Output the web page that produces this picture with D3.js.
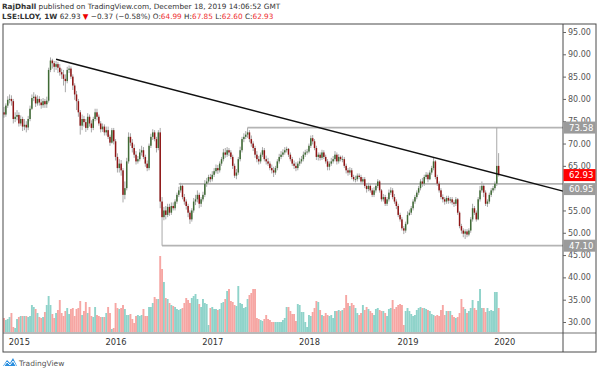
<!DOCTYPE html>
<html>
<head>
<meta charset="utf-8">
<script src="https://cdnjs.cloudflare.com/ajax/libs/d3/7.8.5/d3.min.js"></script>
<style>
    body { margin: 0; background: #fff; }
    svg { display: block; }
    text { font-family: "DejaVu Sans", "Liberation Sans", sans-serif; }
</style>
</head>
<body>
<svg width="600" height="372"></svg>
<script>
// weekly bars of LSE:LLOY, first bar is the week of 10 Nov 2014
var startWeek = "2014-11-10";

var opens = [
    77.0,76.5,78.5,79.8,80.0,79.5,75.5,76.0,76.4,74.5,
    75.5,73.8,74.2,73.6,75.5,77.8,80.2,80.5,79.0,80.0,
    79.2,78.6,79.5,78.8,79.6,86.5,88.6,88.0,87.2,87.8,
    87.0,86.0,85.5,84.5,84.0,86.5,86.8,85.0,83.0,81.0,
    79.5,77.0,74.0,75.5,74.8,73.5,76.0,74.5,73.5,75.5,
    77.0,76.0,74.5,73.2,73.8,72.5,73.0,71.5,70.2,73.0,
    70.5,67.0,64.5,65.5,64.0,58.5,60.0,66.0,71.5,70.2,
    69.0,67.5,66.0,66.5,68.0,68.5,67.0,65.5,64.5,69.5,
    71.5,72.5,71.0,69.0,72.5,57.0,53.5,55.0,54.0,55.8,
    54.5,56.0,55.5,57.0,58.5,59.5,60.5,58.0,57.0,56.0,
    54.5,53.0,55.0,57.0,57.5,58.5,56.5,57.5,58.5,61.0,
    61.5,62.5,62.0,63.0,63.8,64.5,64.0,65.5,66.5,68.0,
    67.5,68.5,68.0,67.0,65.0,62.8,63.5,66.5,68.5,71.0,
    71.5,72.0,72.5,71.0,70.0,69.0,67.5,66.5,66.0,67.5,
    68.5,66.5,66.0,65.5,64.5,64.0,63.5,64.5,66.0,67.0,
    67.5,68.0,68.5,68.8,67.5,66.5,65.5,65.0,64.5,65.5,
    66.0,66.5,67.5,68.0,68.2,69.5,71.2,70.5,69.0,67.0,
    67.5,66.8,68.0,67.0,66.0,64.8,65.5,66.0,66.5,67.5,
    66.0,67.0,66.5,66.5,65.0,64.0,63.5,64.0,62.5,62.0,
    62.0,62.8,62.5,61.5,62.0,60.5,59.8,60.5,59.5,58.5,
    59.5,60.5,61.5,59.5,57.5,58.0,56.5,57.5,59.0,59.5,
    58.0,57.0,56.0,54.0,53.0,51.0,50.5,52.0,54.0,54.5,
    55.5,57.0,58.0,59.0,60.0,61.5,61.0,62.5,63.0,62.0,
    63.5,64.5,66.0,62.5,61.0,59.5,58.0,57.5,57.0,57.8,
    57.2,57.5,56.8,56.5,57.5,54.5,51.5,50.5,49.8,50.3,
    49.6,50.5,53.0,55.5,54.5,53.0,57.5,59.5,60.5,59.0,
    56.5,57.0,58.5,59.5,60.0,61.0,64.99
];

var highs = [
    78.2,79.0,80.6,81.0,80.8,80.0,77.0,77.5,77.0,76.3,
    76.0,75.5,75.0,76.2,78.5,81.0,81.5,81.0,80.8,80.6,
    80.0,80.2,80.0,80.5,87.0,89.3,89.0,88.5,88.5,88.3,
    87.8,86.8,86.5,85.5,87.2,87.5,87.3,85.5,83.5,81.8,
    80.0,77.5,76.5,76.2,75.5,76.8,76.5,75.2,76.0,77.8,
    77.8,76.5,75.0,74.5,74.3,73.8,73.8,72.0,73.5,73.5,
    71.0,67.8,66.5,66.3,64.5,61.5,66.8,72.5,72.3,71.0,
    69.8,68.3,67.2,68.8,69.5,69.2,67.5,66.2,70.0,72.2,
    73.2,73.0,71.5,73.0,73.5,58.0,55.8,56.0,56.5,56.5,
    56.8,56.8,57.5,59.0,60.3,61.2,60.8,58.7,57.5,56.5,
    55.0,55.5,57.8,58.5,59.5,59.0,58.0,59.2,61.8,62.3,
    63.0,63.2,63.8,64.5,65.3,65.2,66.0,67.0,68.8,69.0,
    69.2,69.0,68.5,67.5,65.5,64.3,67.0,69.3,71.5,72.3,
    72.8,73.58,73.0,71.8,70.5,69.5,68.3,67.2,68.0,69.2,
    69.0,67.3,66.8,66.0,65.3,64.8,65.0,66.5,67.7,68.3,
    68.7,69.2,69.3,69.0,68.0,67.0,66.2,65.8,66.0,66.8,
    67.2,68.2,68.6,68.8,70.0,71.8,71.9,71.0,69.5,68.0,
    68.0,68.6,68.5,67.5,66.5,66.0,66.8,67.2,68.3,68.0,
    67.6,67.3,67.3,67.0,65.5,64.5,64.7,64.5,63.0,62.8,
    63.3,63.3,63.0,62.5,62.5,61.0,61.2,61.0,60.0,60.2,
    61.0,62.0,61.8,59.8,58.7,58.5,58.0,59.7,60.2,60.0,
    58.7,57.5,56.5,54.5,53.5,51.5,52.5,54.8,55.2,56.0,
    57.5,58.5,59.5,60.5,62.0,62.3,63.0,63.6,63.5,64.0,
    65.0,66.9,66.3,63.0,61.5,60.0,58.6,58.0,58.3,58.3,
    58.0,58.0,57.3,58.0,57.8,54.8,52.0,51.0,50.8,50.8,
    51.0,53.5,56.5,56.0,55.0,58.0,60.5,61.5,61.0,59.5,
    57.5,59.0,60.0,60.5,61.5,73.58,67.85
];

var lows = [
    75.8,76.0,78.0,79.0,78.5,74.5,74.8,75.2,73.8,74.0,
    72.8,73.0,72.5,73.0,75.0,77.5,79.5,78.2,78.5,78.5,
    77.8,78.0,78.0,78.0,79.2,86.0,86.8,86.0,86.5,85.8,
    85.2,84.5,83.0,81.5,83.5,85.8,84.5,82.0,79.8,77.5,
    76.0,72.0,73.0,73.8,72.6,73.0,73.8,72.5,73.0,75.0,
    75.2,74.0,72.5,72.6,71.8,71.8,71.0,69.5,70.0,69.8,
    66.2,63.5,63.5,62.8,56.8,57.5,59.5,65.5,69.5,68.0,
    66.8,65.3,65.5,66.0,67.3,66.5,64.8,63.8,64.0,69.0,
    70.8,70.5,68.0,68.5,55.5,47.1,52.8,53.0,53.5,53.8,
    54.0,55.0,55.0,56.5,58.0,59.0,57.5,56.3,55.2,53.5,
    52.0,52.5,54.5,56.2,56.8,55.5,55.8,57.0,58.0,60.3,
    61.0,61.3,61.5,62.5,63.3,63.2,63.5,65.0,66.0,66.8,
    67.0,67.2,66.5,64.3,62.3,62.0,63.0,66.0,68.0,70.3,
    71.0,71.3,70.3,69.3,68.3,66.8,65.8,65.3,65.5,67.0,
    66.0,65.3,65.0,64.0,63.3,62.5,63.0,64.0,65.5,66.5,
    67.0,67.5,68.0,67.0,66.0,65.0,64.3,63.8,64.0,65.0,
    65.5,66.0,67.0,67.5,67.8,69.0,69.8,68.5,66.3,66.2,
    66.2,66.3,66.5,65.5,64.0,64.0,65.0,65.5,66.0,65.3,
    65.5,66.0,65.8,64.5,63.3,62.8,63.0,62.0,61.5,61.3,
    61.5,62.0,61.0,61.0,60.0,59.0,59.3,59.0,58.0,58.0,
    59.0,60.0,59.0,57.0,57.0,56.0,56.0,57.0,58.5,57.5,
    56.5,55.3,53.5,52.5,50.5,49.7,50.0,51.8,53.8,54.0,
    55.0,56.5,57.5,58.5,59.5,60.3,60.5,62.0,61.3,61.8,
    63.0,64.0,62.0,60.5,59.0,57.5,56.8,56.3,56.5,56.5,
    56.6,56.3,55.8,56.0,54.0,51.0,49.8,49.0,48.6,49.0,
    49.2,50.0,52.5,54.0,52.5,52.8,57.0,59.0,58.0,56.0,
    55.8,56.5,58.0,59.0,59.5,60.5,62.60
];

var closes = [
    76.5,78.5,79.8,80.0,79.5,75.5,76.0,76.4,74.5,75.5,
    73.8,74.2,73.6,75.5,77.8,80.2,80.5,79.0,80.0,79.2,
    78.6,79.5,78.8,79.6,86.5,88.6,88.0,87.2,87.8,87.0,
    86.0,85.5,84.5,84.0,86.5,86.8,85.0,83.0,81.0,79.5,
    77.0,74.0,75.5,74.8,73.5,76.0,74.5,73.5,75.5,77.0,
    76.0,74.5,73.2,73.8,72.5,73.0,71.5,70.2,73.0,70.5,
    67.0,64.5,65.5,64.0,58.5,60.0,66.0,71.5,70.2,69.0,
    67.5,66.0,66.5,68.0,68.5,67.0,65.5,64.5,69.5,71.5,
    72.5,71.0,69.0,72.5,57.0,53.5,55.0,54.0,55.8,54.5,
    56.0,55.5,57.0,58.5,59.5,60.5,58.0,57.0,56.0,54.5,
    53.0,55.0,57.0,57.5,58.5,56.5,57.5,58.5,61.0,61.5,
    62.5,62.0,63.0,63.8,64.5,64.0,65.5,66.5,68.0,67.5,
    68.5,68.0,67.0,65.0,62.8,63.5,66.5,68.5,71.0,71.5,
    72.0,72.5,71.0,70.0,69.0,67.5,66.5,66.0,67.5,68.5,
    66.5,66.0,65.5,64.5,64.0,63.5,64.5,66.0,67.0,67.5,
    68.0,68.5,68.8,67.5,66.5,65.5,65.0,64.5,65.5,66.0,
    66.5,67.5,68.0,68.2,69.5,71.2,70.5,69.0,67.0,67.5,
    66.8,68.0,67.0,66.0,64.8,65.5,66.0,66.5,67.5,66.0,
    67.0,66.5,66.5,65.0,64.0,63.5,64.0,62.5,62.0,62.0,
    62.8,62.5,61.5,62.0,60.5,59.8,60.5,59.5,58.5,59.5,
    60.5,61.5,59.5,57.5,58.0,56.5,57.5,59.0,59.5,58.0,
    57.0,56.0,54.0,53.0,51.0,50.5,52.0,54.0,54.5,55.5,
    57.0,58.0,59.0,60.0,61.5,61.0,62.5,63.0,62.0,63.5,
    64.5,66.0,62.5,61.0,59.5,58.0,57.5,57.0,57.8,57.2,
    57.5,56.8,56.5,57.5,54.5,51.5,50.5,49.8,50.3,49.6,
    50.5,53.0,55.5,54.5,53.0,57.5,59.5,60.5,59.0,56.5,
    57.0,58.5,59.5,60.0,61.0,64.99,62.93
];

// weekly volume, in units of 50M shares
var volumes = [
    15,13,14,16,20,6,5,14,16,17,
    17,17,17,16,17,28,26,24,20,16,
    15,16,21,28,37,28,19,15,20,23,
    33,20,17,22,25,19,24,25,17,24,
    25,32,18,22,31,20,26,17,16,26,
    18,17,16,16,16,20,26,20,4,5,
    30,25,24,25,28,24,18,18,19,14,
    10,17,18,17,18,24,17,17,26,26,
    30,36,34,34,77,64,51,35,34,30,
    28,27,26,24,23,24,25,30,35,33,
    30,35,37,39,34,29,26,34,30,29,
    8,25,26,24,24,23,24,30,31,34,
    42,44,32,31,28,27,47,30,29,25,
    26,34,38,40,44,44,15,14,13,12,
    14,18,14,13,11,11,11,11,11,11,
    13,15,26,26,22,19,19,12,29,28,
    21,21,11,6,18,17,21,25,32,31,
    23,18,17,20,18,17,18,15,22,22,
    23,22,23,25,38,30,27,30,28,25,
    20,18,20,28,23,26,24,22,20,18,
    24,25,23,22,22,20,17,24,25,33,
    24,26,28,29,28,8,22,25,22,19,
    17,18,23,25,26,25,25,24,23,22,
    19,18,17,18,17,23,28,18,22,22,
    22,18,16,15,16,20,34,26,24,20,
    22,25,33,25,23,32,44,25,25,21,
    25,22,23,22,41,41,25
];

var yearTickDates = ["2015-01-05", "2016-01-04", "2017-01-02", "2018-01-01", "2019-01-07", "2020-01-06"];
var yearLabels = ["2015", "2016", "2017", "2018", "2019", "2020"];
var priceTicks = [30, 35, 40, 45, 50, 55, 60, 65, 70, 75, 80, 85, 90, 95];

// drawn levels: price and the week index where each line starts
var levelPrices = [73.58, 60.95, 47.10];
var levelStartWeeks = [131, 94, 85];

// trend line from the 2015 top, two anchor points (week index, price)
var trendWeeks = [28.5, 300.5];
var trendPrices = [88.9, 59.4];

var lastClose = 62.93;

var svg = d3.select("svg");
var parse = d3.timeParse("%Y-%m-%d");
var start = parse(startWeek);
var dates = closes.map(function(d, i) { return d3.timeWeek.offset(start, i); });

// plot geometry
var frame = { left: 3, top: 24, right: 596, bottom: 352 },
    axisX = 563,
    timeAxisTop = 333;

var x = d3.scaleTime()
    .domain([start, parse("2020-01-06")])
    .range([4, 504.2]);
var y = d3.scaleLinear()
    .domain([30, 95])
    .range([322, 32]);
var v = d3.scaleLinear()
    .domain([0, 100])
    .range([timeAxisTop, timeAxisTop - 100]);

svg.append("rect").attr("width", 600).attr("height", 372).attr("fill", "#fff");

var plot = svg.append("g");

// volume bars
plot.selectAll("rect.vol")
    .data(volumes)
    .enter().append("rect")
    .attr("class", "vol")
    .attr("x", function(d, i) { return x(dates[i]) - 0.95; })
    .attr("width", 1.9)
    .attr("y", function(d) { return v(d); })
    .attr("height", function(d) { return timeAxisTop - v(d); })
    .attr("fill", function(d, i) { return closes[i] >= opens[i] ? "#8fd3ca" : "#f6a6a3"; });

// horizontal levels
levelPrices.forEach(function(p, k) {
    plot.append("line")
        .attr("x1", x(d3.timeWeek.offset(start, levelStartWeeks[k])))
        .attr("x2", axisX)
        .attr("y1", y(p)).attr("y2", y(p))
        .attr("stroke", "#b4b4b4")
        .attr("stroke-width", 1.8);
});

// candles: wick then body
var candles = plot.selectAll("g.candle")
    .data(closes)
    .enter().append("g")
    .attr("class", "candle");

candles.append("line")
    .attr("x1", function(d, i) { return x(dates[i]); })
    .attr("x2", function(d, i) { return x(dates[i]); })
    .attr("y1", function(d, i) { return y(highs[i]); })
    .attr("y2", function(d, i) { return y(lows[i]); })
    .attr("stroke", "#a8a8a8")
    .attr("stroke-width", 1);

candles.append("rect")
    .attr("x", function(d, i) { return x(dates[i]) - 0.75; })
    .attr("width", 1.5)
    .attr("y", function(d, i) { return y(Math.max(opens[i], d)); })
    .attr("height", function(d, i) { return Math.max(0.8, Math.abs(y(opens[i]) - y(d))); })
    .attr("fill", function(d, i) { return d >= opens[i] ? "#3f6b35" : "#8f1414"; });

// trend line, extended to the price axis
var tx0 = x(d3.timeWeek.offset(start, trendWeeks[0])),
    tx1 = x(d3.timeWeek.offset(start, trendWeeks[1])),
    slope = (y(trendPrices[1]) - y(trendPrices[0])) / (tx1 - tx0);
plot.append("line")
    .attr("x1", tx0)
    .attr("y1", y(trendPrices[0]))
    .attr("x2", axisX)
    .attr("y2", y(trendPrices[0]) + (axisX - tx0) * slope)
    .attr("stroke", "#111")
    .attr("stroke-width", 1.5);

// frame and separators
svg.append("line").attr("x1", frame.left).attr("x2", frame.right)
    .attr("y1", timeAxisTop).attr("y2", timeAxisTop)
    .attr("stroke", "#b9b9b9").attr("stroke-width", 2);
svg.append("rect")
    .attr("x", frame.left).attr("y", frame.top)
    .attr("width", frame.right - frame.left).attr("height", frame.bottom - frame.top)
    .attr("fill", "none").attr("stroke", "#4a4a4a").attr("stroke-width", 1);
svg.append("line").attr("x1", axisX).attr("x2", axisX)
    .attr("y1", frame.top).attr("y2", frame.bottom)
    .attr("stroke", "#4a4a4a").attr("stroke-width", 1);

// price labels on the axis, pushed apart when they overlap
var tags = levelPrices.map(function(p) { return { price: p, fill: "#9b9b9b" }; });
tags.push({ price: lastClose, fill: "#ff0000" });
tags.sort(function(a, b) { return b.price - a.price; });
var boxH = 12, lastBottom = -1e9;
tags.forEach(function(t) {
    t.cy = Math.max(y(t.price), lastBottom + boxH / 2 + 2);
    lastBottom = t.cy + boxH / 2;
});

// price axis on the right; a tick label that sits right under a tag is hidden
var yAxis = d3.axisRight(y)
    .tickValues(priceTicks)
    .tickSize(3)
    .tickPadding(2)
    .tickFormat(d3.format(".2f"));
var yAxisG = svg.append("g")
    .attr("transform", "translate(" + axisX + ",0)")
    .call(yAxis);
yAxisG.select(".domain").remove();
yAxisG.selectAll("line").attr("stroke", "#666");
yAxisG.selectAll("text").attr("fill", "#555").style("font-size", "8px");
yAxisG.selectAll(".tick")
    .filter(function(d) {
        return tags.some(function(t) { return Math.abs(t.cy - y(d)) < 4; });
    })
    .remove();

var tagG = svg.selectAll("g.tag").data(tags).enter().append("g").attr("class", "tag");
tagG.append("rect")
    .attr("x", axisX + 0.5).attr("width", frame.right - axisX - 1)
    .attr("y", function(d) { return d.cy - boxH / 2; })
    .attr("height", boxH)
    .attr("fill", function(d) { return d.fill; });
tagG.append("text")
    .attr("x", axisX + 6)
    .attr("y", function(d) { return d.cy + 3; })
    .attr("fill", "#fff")
    .style("font-size", "8.5px")
    .text(function(d) { return d.price.toFixed(2); });

// time axis
var xAxis = d3.axisBottom(x)
    .tickValues(yearTickDates.map(parse))
    .tickSize(0)
    .tickPadding(6)
    .tickFormat(function(d, i) { return yearLabels[i]; });
var xAxisG = svg.append("g")
    .attr("transform", "translate(0," + timeAxisTop + ")")
    .call(xAxis);
xAxisG.select(".domain").remove();
xAxisG.selectAll("text").attr("fill", "#333").style("font-size", "8.3px");

// header
var head = svg.append("g").style("font-size", "7.3px").attr("fill", "#333");
var l1 = head.append("text").attr("x", 2).attr("y", 9);
l1.append("tspan").style("font-weight", "bold").text("RajDhall");
l1.append("tspan").text(" published on TradingView.com, December 18, 2019 14:06:52 GMT");
var l2 = head.append("text").attr("x", 2).attr("y", 18.5);
l2.append("tspan").style("font-weight", "bold").text("LSE:LLOY, 1W");
l2.append("tspan").text(" 62.93 ");
l2.append("tspan").attr("fill", "#e00").text("▼");
l2.append("tspan").text(" \u22120.37 (\u22120.58%) O:");
l2.append("tspan").attr("fill", "#e33").text("64.99");
l2.append("tspan").text(" H:");
l2.append("tspan").attr("fill", "#e33").text("67.85");
l2.append("tspan").text(" L:");
l2.append("tspan").attr("fill", "#e33").text("62.60");
l2.append("tspan").text(" C:");
l2.append("tspan").attr("fill", "#e33").text("62.93");

// logo
var logo = svg.append("g").attr("transform", "translate(3,357)");
logo.append("path")
    .attr("d", "M0,9 L4,3 L7,6 L10,1 L14,9 Z")
    .attr("fill", "#2a8fe0");
logo.append("path")
    .attr("d", "M1,9 L4,5 L7,8 L10,4 L13,9")
    .attr("fill", "none").attr("stroke", "#fff").attr("stroke-width", 1);
svg.append("text")
    .attr("x", 19).attr("y", 365.5)
    .attr("fill", "#555")
    .style("font-size", "7.5px")
    .text("TradingView");
</script>
</body>
</html>
